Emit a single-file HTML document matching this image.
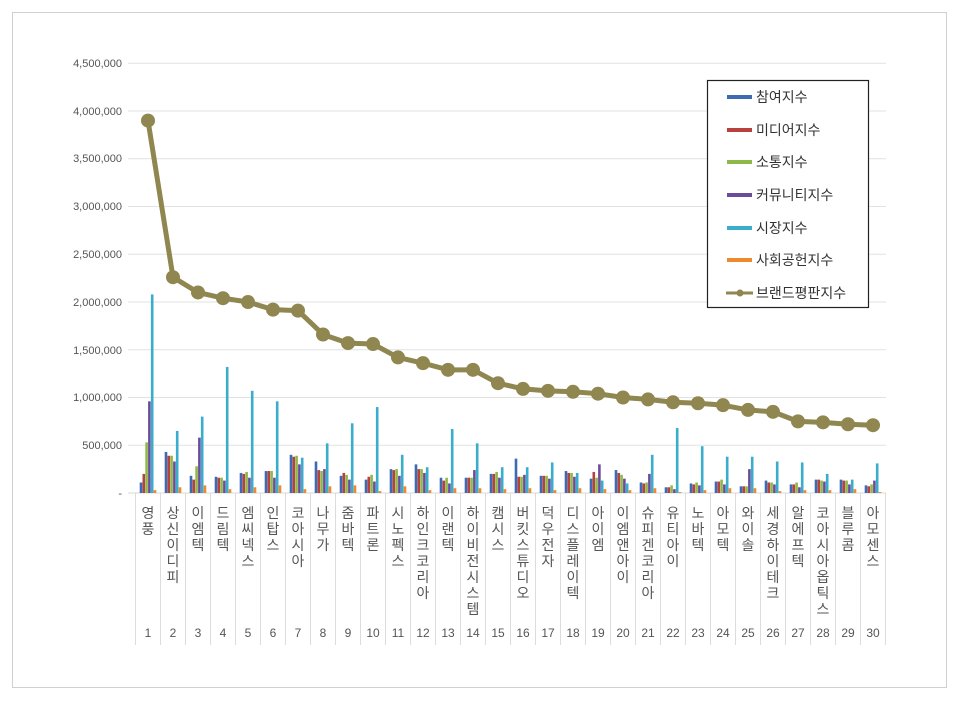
<!DOCTYPE html>
<html><head><meta charset="utf-8"><style>
body{margin:0;background:#fff}
svg text{font-family:"Liberation Sans","Noto Sans CJK KR",sans-serif}
</style></head><body>
<svg id="s" width="960" height="699" xmlns="http://www.w3.org/2000/svg">
<rect x="12.5" y="12.5" width="934" height="675" fill="#fff" stroke="#d0d0d0"/>
<g id="grid" stroke="#e2e2e2" stroke-width="1"></g>
<g id="bars"></g>
<g id="line"></g>
<g font-size="11" fill="#555" text-anchor="end">
<text x="122" y="67">4,500,000</text>
<text x="122" y="115">4,000,000</text>
<text x="122" y="162">3,500,000</text>
<text x="122" y="210">3,000,000</text>
<text x="122" y="258">2,500,000</text>
<text x="122" y="306">2,000,000</text>
<text x="122" y="354">1,500,000</text>
<text x="122" y="401">1,000,000</text>
<text x="122" y="449">500,000</text>
<text x="122" y="497">-</text>
</g>
<g id="xl" font-size="14" fill="#555" text-anchor="middle">
<text x="148" y="518"><tspan x="148">영</tspan><tspan x="148" dy="16">풍</tspan></text>
<text x="173" y="518"><tspan x="173">상</tspan><tspan x="173" dy="16">신</tspan><tspan x="173" dy="16">이</tspan><tspan x="173" dy="16">디</tspan><tspan x="173" dy="16">피</tspan></text>
<text x="198" y="518"><tspan x="198">이</tspan><tspan x="198" dy="16">엠</tspan><tspan x="198" dy="16">텍</tspan></text>
<text x="223" y="518"><tspan x="223">드</tspan><tspan x="223" dy="16">림</tspan><tspan x="223" dy="16">텍</tspan></text>
<text x="248" y="518"><tspan x="248">엠</tspan><tspan x="248" dy="16">씨</tspan><tspan x="248" dy="16">넥</tspan><tspan x="248" dy="16">스</tspan></text>
<text x="273" y="518"><tspan x="273">인</tspan><tspan x="273" dy="16">탑</tspan><tspan x="273" dy="16">스</tspan></text>
<text x="298" y="518"><tspan x="298">코</tspan><tspan x="298" dy="16">아</tspan><tspan x="298" dy="16">시</tspan><tspan x="298" dy="16">아</tspan></text>
<text x="323" y="518"><tspan x="323">나</tspan><tspan x="323" dy="16">무</tspan><tspan x="323" dy="16">가</tspan></text>
<text x="348" y="518"><tspan x="348">줌</tspan><tspan x="348" dy="16">바</tspan><tspan x="348" dy="16">텍</tspan></text>
<text x="373" y="518"><tspan x="373">파</tspan><tspan x="373" dy="16">트</tspan><tspan x="373" dy="16">론</tspan></text>
<text x="398" y="518"><tspan x="398">시</tspan><tspan x="398" dy="16">노</tspan><tspan x="398" dy="16">펙</tspan><tspan x="398" dy="16">스</tspan></text>
<text x="423" y="518"><tspan x="423">하</tspan><tspan x="423" dy="16">인</tspan><tspan x="423" dy="16">크</tspan><tspan x="423" dy="16">코</tspan><tspan x="423" dy="16">리</tspan><tspan x="423" dy="16">아</tspan></text>
<text x="448" y="518"><tspan x="448">이</tspan><tspan x="448" dy="16">랜</tspan><tspan x="448" dy="16">텍</tspan></text>
<text x="473" y="518"><tspan x="473">하</tspan><tspan x="473" dy="16">이</tspan><tspan x="473" dy="16">비</tspan><tspan x="473" dy="16">전</tspan><tspan x="473" dy="16">시</tspan><tspan x="473" dy="16">스</tspan><tspan x="473" dy="16">템</tspan></text>
<text x="498" y="518"><tspan x="498">캠</tspan><tspan x="498" dy="16">시</tspan><tspan x="498" dy="16">스</tspan></text>
<text x="523" y="518"><tspan x="523">버</tspan><tspan x="523" dy="16">킷</tspan><tspan x="523" dy="16">스</tspan><tspan x="523" dy="16">튜</tspan><tspan x="523" dy="16">디</tspan><tspan x="523" dy="16">오</tspan></text>
<text x="548" y="518"><tspan x="548">덕</tspan><tspan x="548" dy="16">우</tspan><tspan x="548" dy="16">전</tspan><tspan x="548" dy="16">자</tspan></text>
<text x="573" y="518"><tspan x="573">디</tspan><tspan x="573" dy="16">스</tspan><tspan x="573" dy="16">플</tspan><tspan x="573" dy="16">레</tspan><tspan x="573" dy="16">이</tspan><tspan x="573" dy="16">텍</tspan></text>
<text x="598" y="518"><tspan x="598">아</tspan><tspan x="598" dy="16">이</tspan><tspan x="598" dy="16">엠</tspan></text>
<text x="623" y="518"><tspan x="623">이</tspan><tspan x="623" dy="16">엠</tspan><tspan x="623" dy="16">앤</tspan><tspan x="623" dy="16">아</tspan><tspan x="623" dy="16">이</tspan></text>
<text x="648" y="518"><tspan x="648">슈</tspan><tspan x="648" dy="16">피</tspan><tspan x="648" dy="16">겐</tspan><tspan x="648" dy="16">코</tspan><tspan x="648" dy="16">리</tspan><tspan x="648" dy="16">아</tspan></text>
<text x="673" y="518"><tspan x="673">유</tspan><tspan x="673" dy="16">티</tspan><tspan x="673" dy="16">아</tspan><tspan x="673" dy="16">이</tspan></text>
<text x="698" y="518"><tspan x="698">노</tspan><tspan x="698" dy="16">바</tspan><tspan x="698" dy="16">텍</tspan></text>
<text x="723" y="518"><tspan x="723">아</tspan><tspan x="723" dy="16">모</tspan><tspan x="723" dy="16">텍</tspan></text>
<text x="748" y="518"><tspan x="748">와</tspan><tspan x="748" dy="16">이</tspan><tspan x="748" dy="16">솔</tspan></text>
<text x="773" y="518"><tspan x="773">세</tspan><tspan x="773" dy="16">경</tspan><tspan x="773" dy="16">하</tspan><tspan x="773" dy="16">이</tspan><tspan x="773" dy="16">테</tspan><tspan x="773" dy="16">크</tspan></text>
<text x="798" y="518"><tspan x="798">알</tspan><tspan x="798" dy="16">에</tspan><tspan x="798" dy="16">프</tspan><tspan x="798" dy="16">텍</tspan></text>
<text x="823" y="518"><tspan x="823">코</tspan><tspan x="823" dy="16">아</tspan><tspan x="823" dy="16">시</tspan><tspan x="823" dy="16">아</tspan><tspan x="823" dy="16">옵</tspan><tspan x="823" dy="16">틱</tspan><tspan x="823" dy="16">스</tspan></text>
<text x="848" y="518"><tspan x="848">블</tspan><tspan x="848" dy="16">루</tspan><tspan x="848" dy="16">콤</tspan></text>
<text x="873" y="518"><tspan x="873">아</tspan><tspan x="873" dy="16">모</tspan><tspan x="873" dy="16">센</tspan><tspan x="873" dy="16">스</tspan></text>
</g>
<g font-size="12" fill="#555" text-anchor="middle">
<text x="148" y="637">1</text><text x="173" y="637">2</text><text x="198" y="637">3</text><text x="223" y="637">4</text><text x="248" y="637">5</text><text x="273" y="637">6</text><text x="298" y="637">7</text><text x="323" y="637">8</text><text x="348" y="637">9</text><text x="373" y="637">10</text><text x="398" y="637">11</text><text x="423" y="637">12</text><text x="448" y="637">13</text><text x="473" y="637">14</text><text x="498" y="637">15</text><text x="523" y="637">16</text><text x="548" y="637">17</text><text x="573" y="637">18</text><text x="598" y="637">19</text><text x="623" y="637">20</text><text x="648" y="637">21</text><text x="673" y="637">22</text><text x="698" y="637">23</text><text x="723" y="637">24</text><text x="748" y="637">25</text><text x="773" y="637">26</text><text x="798" y="637">27</text><text x="823" y="637">28</text><text x="848" y="637">29</text><text x="873" y="637">30</text>
</g>
<g>
<rect x="707.5" y="80.5" width="161" height="227" fill="#fff" stroke="#222" stroke-width="1.2"/>
<rect x="727" y="95" width="25" height="4" fill="#3d6bb3"/>
<rect x="727" y="128" width="25" height="4" fill="#b8403d"/>
<rect x="727" y="160" width="25" height="4" fill="#8db94a"/>
<rect x="727" y="193" width="25" height="4" fill="#6b4c9a"/>
<rect x="727" y="226" width="25" height="4" fill="#3aaccc"/>
<rect x="727" y="258" width="25" height="4" fill="#ef8a2c"/>
<line x1="726" y1="293" x2="753" y2="293" stroke="#8f8650" stroke-width="3"/>
<circle cx="740" cy="293" r="3.5" fill="#8f8650"/>
<g font-size="14" fill="#333">
<text x="756" y="102">참여지수</text>
<text x="756" y="135">미디어지수</text>
<text x="756" y="167">소통지수</text>
<text x="756" y="200">커뮤니티지수</text>
<text x="756" y="233">시장지수</text>
<text x="756" y="265">사회공헌지수</text>
<text x="756" y="298">브랜드평판지수</text>
</g>
</g>
</svg>
<script>
var NS="http://www.w3.org/2000/svg";
function el(p,t,a){var e=document.createElementNS(NS,t);for(var k in a)e.setAttribute(k,a[k]);p.appendChild(e);return e;}
function Y(v){return 493-v/4500*429.7;}
var g=document.getElementById('grid');
for(var i=1;i<=9;i++){var y=Y(i*500);el(g,'line',{x1:128,x2:886,y1:y,y2:y});}
el(g,'line',{x1:128,x2:886,y1:493,y2:493,stroke:'#d8d8d8'});
for(var i=0;i<=30;i++){var x=135.5+25*i;el(g,'line',{x1:x,x2:x,y1:493,y2:645,stroke:'#dcdcdc'});}
var B=[[110,200,530,960,2080,30],[430,390,390,330,650,60],[180,140,280,580,800,80],[170,160,160,130,1320,40],[210,200,220,160,1070,60],[230,230,230,160,960,80],[400,380,390,300,370,40],[330,240,230,250,520,70],[180,210,190,140,730,80],[140,170,190,120,900,20],[250,240,250,180,400,70],[300,250,250,210,270,30],[160,130,160,100,670,50],[160,160,160,240,520,50],[200,200,220,160,270,40],[360,170,170,190,270,50],[180,180,180,150,320,30],[230,210,210,170,210,50],[150,220,160,300,130,40],[240,210,190,150,100,30],[110,100,110,200,400,50],[60,60,80,40,680,10],[100,90,110,80,490,30],[120,120,140,90,380,50],[70,70,70,250,380,50],[130,110,110,90,330,20],[90,90,110,60,320,30],[140,140,130,120,200,30],[140,130,130,90,140,40],[80,70,90,130,310,10]];
var C=['#3d6bb3','#b8403d','#8db94a','#6b4c9a','#3aaccc','#ef8a2c'];
var L=[3900,2260,2100,2040,2000,1920,1910,1660,1570,1560,1420,1360,1290,1290,1150,1090,1070,1060,1040,1000,980,950,940,920,870,850,750,740,720,710];
var bg=document.getElementById('bars');
for(var i=0;i<30;i++){var cx=148+25*i;for(var j=0;j<6;j++){var y=Y(B[i][j]);el(bg,'rect',{x:cx-8.3+j*2.8,y:y,width:2.6,height:493-y,fill:C[j]});}}
var lg=document.getElementById('line');var pts=L.map(function(v,i){return (148+25*i)+','+Y(v);}).join(' ');
el(lg,'polyline',{points:pts,fill:'none',stroke:'#8f8650','stroke-width':5,'stroke-linejoin':'round'});
L.forEach(function(v,i){el(lg,'circle',{cx:148+25*i,cy:Y(v),r:7,fill:'#8f8650'});});
</script>
</body></html>
